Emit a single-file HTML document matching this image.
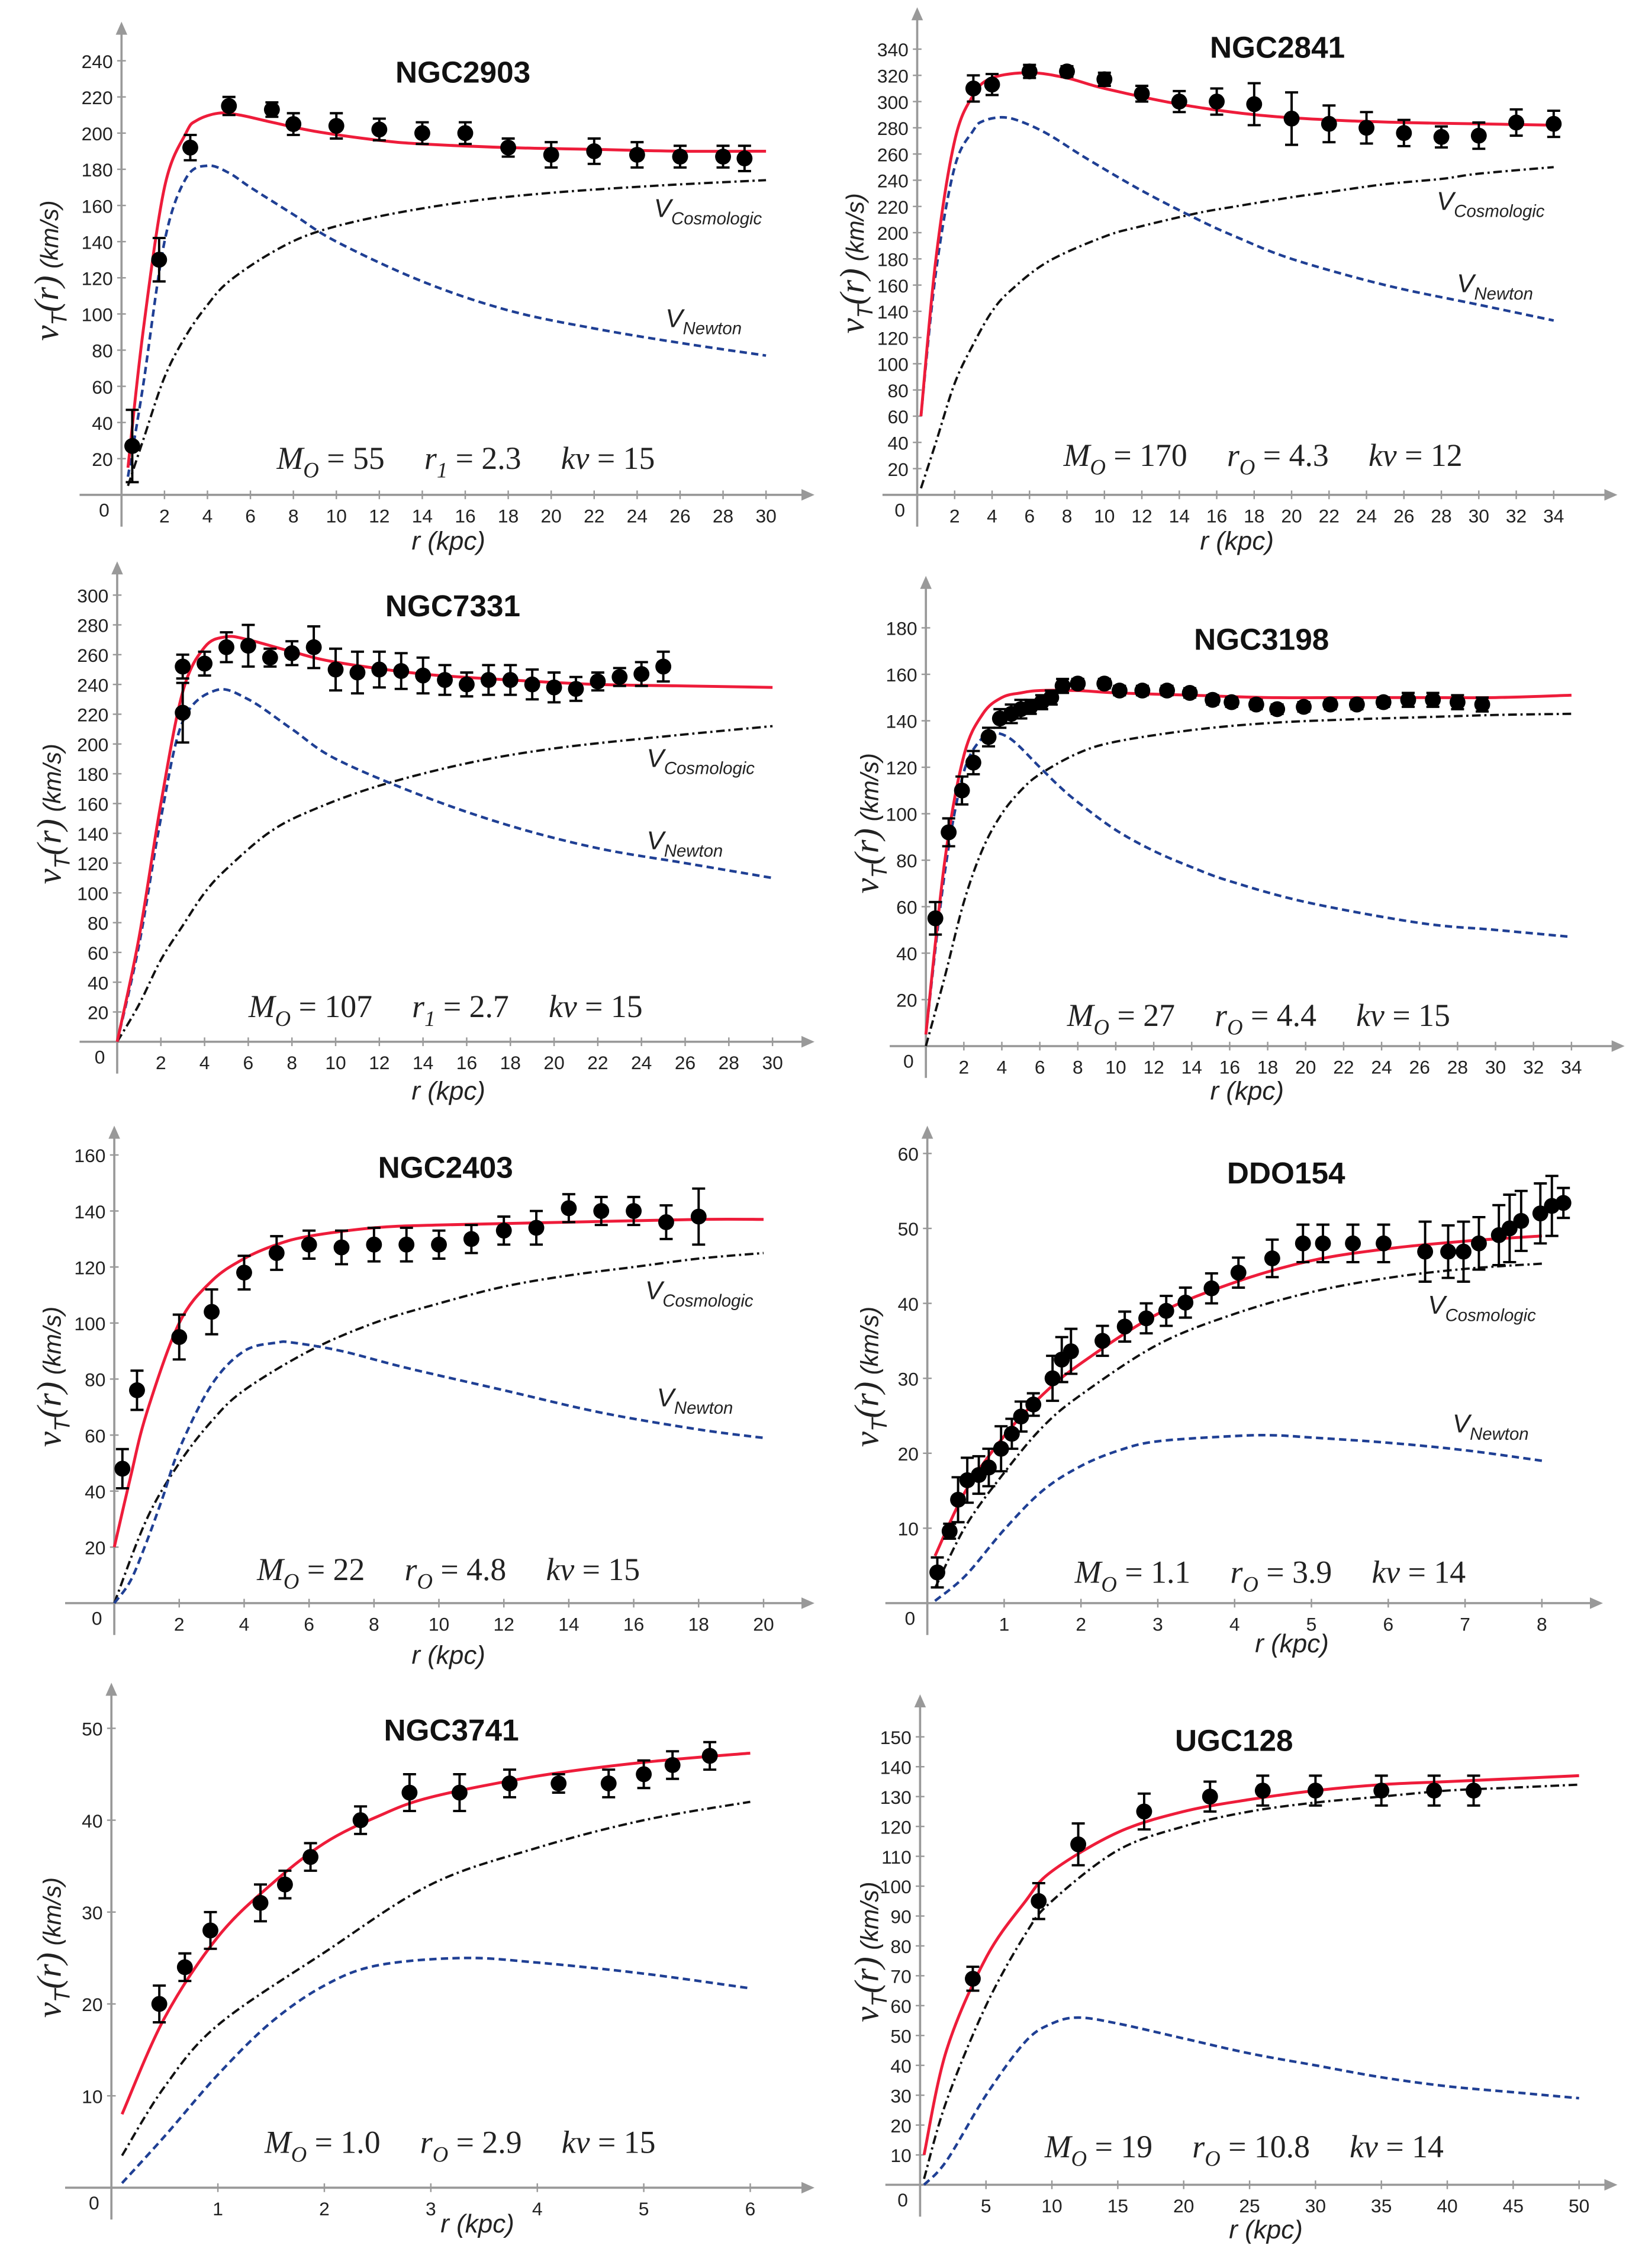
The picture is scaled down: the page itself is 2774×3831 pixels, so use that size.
<!DOCTYPE html>
<html><head><meta charset="utf-8">
<style>
html,body{margin:0;padding:0;background:#fff;}
svg{display:block;}
.tick{font-family:"Liberation Sans",sans-serif;font-size:13px;fill:#222;}
.title{font-family:"Liberation Sans",sans-serif;font-size:21px;font-weight:bold;fill:#111;}
.par{font-family:"Liberation Serif",serif;font-size:22px;fill:#222;}
.lab{font-family:"Liberation Sans",sans-serif;font-style:italic;fill:#222;}
</style></head>
<body>
<svg id="fig" width="2774" height="3831" viewBox="0 0 1135 1567.5" preserveAspectRatio="none" xmlns="http://www.w3.org/2000/svg"></svg>
<script>
// ---------- Panel data ----------
const p1_r=[0.5,1.75,3.2,5,7,8,10,12,14,16,18,20,22,24,26,28,29];
const p1_v=[27,130,192,215,213,205,204,202,200,200,192,188,190,188,187,187,186];
const p1_e=[20,12,7,5,4,6,7,6,6,6,5,7,7,7,6,6,7];
const p1_redR=[0.3,1,2,3,3.5,4.5,5.5,7,9,12,14,18,22,26,30];
const p1_redV=[15,90,170,200,207,211,210,206,201,196,194,192,191,190,190];
const p1_newR=[0.3,1,2,3,4,5,6,8,10,14,18,22,26,30];
const p1_newV=[10,60,140,175,182,178,170,155,140,118,102,92,84,77];
const p1_cosR=[0.3,1,2,3,4,5,7,9,12,16,20,25,30];
const p1_cosV=[5,30,65,88,105,118,134,145,154,162,167,171,174];

const p2_r=[3,4,6,8,10,12,14,16,18,20,22,24,26,28,30,32,34];
const p2_v=[310,313,323,323,317,306,300,300,298,287,283,280,276,273,274,284,283];
const p2_e=[10,8,5,4,5,6,8,10,16,20,14,12,10,8,10,10,10];
const p2_redR=[0.2,1,2,3,4,6,8,10,14,18,22,26,30,34];
const p2_redV=[60,180,270,305,318,322,318,310,298,290,286,284,283,282];
const p2_newR=[0.2,1,2,3,3.5,4.5,5.5,7,9,12,15,17,20,25,30,34];
const p2_newV=[60,170,250,278,285,288,285,275,257,232,210,197,180,160,145,133];
const p2_cosR=[0.2,1,2,3,4,5,7,10,12,15,17,20,22,25,28,30,34];
const p2_cosV=[5,40,85,115,140,156,178,197,205,215,220,227,231,237,241,245,250];

const p3_r=[3,3,4,5,6,7,8,9,10,11,12,13,14,15,16,17,18,19,20,21,22,23,24,25];
const p3_v=[221,252,254,265,266,258,261,265,250,248,250,249,246,243,240,243,243,240,238,237,242,245,247,252];
const p3_e=[20,8,8,10,14,6,8,14,14,14,12,12,12,10,8,10,10,10,10,8,6,6,8,10];
const p3_redR=[0,1,2,3,4,5,6,8,10,14,18,22,26,30];
const p3_redV=[0,70,160,235,265,272,270,262,255,247,243,240,239,238];
const p3_newR=[0,1,2,3,4.5,6,8,10,14,18,22,26,30];
const p3_newV=[0,65,150,215,236,230,210,190,165,145,130,120,110];
const p3_cosR=[0,1,2,3,4,5,7,9,12,16,20,25,30];
const p3_cosV=[0,25,55,78,100,116,141,156,172,187,197,205,212];

const p4_r=[0.5,1.2,1.9,2.5,3.3,3.9,4.5,5.0,5.5,6.1,6.6,7.2,8.0,9.4,10.2,11.4,12.7,13.9,15.1,16.1,17.4,18.5,19.9,21.3,22.7,24.1,25.4,26.7,28.0,29.3];
const p4_v=[55,92,110,122,133,141,143,145,146,148,150,155,156,156,153,153,153,152,149,148,147,145,146,147,147,148,149,149,148,147];
const p4_e=[7,6,6,5,4,4,4,4,3,3,3,3,2,2,2,2,2,2,2,2,2,2,2,2,2,2,3,3,3,3];
const p4_redR=[0,1,2,3,4,5,6,8,10,14,18,22,26,30,34];
const p4_redV=[5,80,125,143,150,152,153,153,152,151,150,150,150,150,151];
const p4_newR=[0,1,2,3,3.5,4.5,6,7,8,10,12,14,16,20,26,30,34];
const p4_newV=[5,75,118,133,135,132,120,112,105,93,84,77,71,62,53,50,47];
const p4_cosR=[0,1,2,3,4,5,6,8,10,14,18,22,26,30,34];
const p4_cosV=[0,30,62,85,100,110,117,126,131,136,139,140.5,141.5,142.5,143];

const p5_r=[0.25,0.7,2,3,4,5,6,7,8,9,10,11,12,13,14,15,16,17,18];
const p5_v=[48,76,95,104,118,125,128,127,128,128,128,130,133,134,141,140,140,136,138];
const p5_e=[7,7,8,8,6,6,5,6,6,6,5,5,5,6,5,5,5,6,10];
const p5_redR=[0,0.5,1,2,3,4,5,6,8,10,14,18,20];
const p5_redV=[20,45,68,100,115,123,128,131,134,135,136,137,137];
const p5_newR=[0,0.5,1,1.5,2,3,4,5,5.5,7,9,12,15,18,20];
const p5_newV=[0,8,22,38,55,78,90,93,93,90,84,76,68,62,59];
const p5_cosR=[0,1,2,3,4,6,8,10,12,14,16,18,20];
const p5_cosV=[0,30,50,65,76,90,100,107,113,117,120,123,125];

const p6_r=[0.13,0.29,0.4,0.52,0.67,0.8,0.96,1.1,1.22,1.38,1.63,1.75,1.87,2.28,2.57,2.85,3.11,3.36,3.7,4.05,4.49,4.89,5.15,5.54,5.94,6.48,6.78,6.98,7.18,7.44,7.58,7.73,7.98,8.13,8.28];
const p6_v=[4.1,9.6,13.8,16.4,17.1,18.1,20.6,22.6,24.9,26.5,30,32.5,33.6,35,36.9,38,39,40.1,42,44.1,46,48,48,48,48,46.9,46.9,46.9,48,49.1,50,51,52,53,53.4];
const p6_e=[2,1,3,3,2.5,2.5,3,2,2,1.5,3,3,3,2,2,2,2,2,2,2,2.5,2.5,2.5,2.5,2.5,4,3.5,4,3.5,4,4.5,4,4,4,2];
const p6_redR=[0.1,0.5,1,1.5,2,3,4,5,6,7,8];
const p6_redV=[6.3,15,22.3,27.8,32,38.6,42.8,45.7,47.3,48.3,49];
const p6_newR=[0.1,0.5,1,1.5,2,2.5,3,4,4.5,5,6,7,8];
const p6_newV=[0.3,3.7,9.8,15,18.3,20.4,21.6,22.3,22.4,22.1,21.4,20.4,19];
const p6_cosR=[0.1,0.5,1,1.5,2,3,4,5,6,7,8];
const p6_cosV=[2,10.3,17.4,23.5,27.8,34.5,38.6,41.5,43.4,44.6,45.3];

const p7_r=[0.45,0.69,0.93,1.4,1.63,1.87,2.34,2.8,3.27,3.74,4.2,4.67,5.0,5.27,5.62];
const p7_v=[20,24,28,31,33,36,40,43,43,44,44,44,45,46,47];
const p7_e=[2,1.5,2,2,1.5,1.5,1.5,2,2,1.5,1,1.5,1.5,1.5,1.5];
const p7_redR=[0.1,0.5,1,1.5,2,2.5,3,4,5,6];
const p7_redV=[8,18.5,27.3,33,37.5,40.4,42.5,44.8,46.3,47.3];
const p7_newR=[0.1,0.5,1,1.5,2,2.5,3.3,4,5,6];
const p7_newV=[0.5,5.6,12.3,18,22,24.2,25,24.5,23.3,21.7];
const p7_cosR=[0.1,0.5,1,2,3,4,5,6];
const p7_cosV=[3.5,11,17.7,25.6,33,37,40,42];

const p8_r=[4,9,12,17,22,26,30,35,39,42];
const p8_v=[69,95,114,125,130,132,132,132,132,132];
const p8_e=[4,6,7,6,5,5,5,5,5,5];
const p8_redR=[0.3,2,5,8,10,15,20,25,30,35,40,45,50];
const p8_redV=[10,45,76,95,105,118,125,129,132,134,135,136,137];
const p8_newR=[0.3,2,5,8,10,12,15,20,25,30,35,40,45,50];
const p8_newV=[0,8,30,48,54,56,54,49,44,40,36,33,31,29];
const p8_cosR=[0.3,2,5,8,10,15,20,25,30,35,40,45,50];
const p8_cosV=[2,28,60,84,95,112,120,125,128,130,132,133,134];

// tick arrays
const p1_xt=[2,4,6,8,10,12,14,16,18,20,22,24,26,28,30], p1_yt=[20,40,60,80,100,120,140,160,180,200,220,240];
const p2_xt=[2,4,6,8,10,12,14,16,18,20,22,24,26,28,30,32,34], p2_yt=[20,40,60,80,100,120,140,160,180,200,220,240,260,280,300,320,340];
const p3_xt=[2,4,6,8,10,12,14,16,18,20,22,24,26,28,30], p3_yt=[20,40,60,80,100,120,140,160,180,200,220,240,260,280,300];
const p4_xt=[2,4,6,8,10,12,14,16,18,20,22,24,26,28,30,32,34], p4_yt=[20,40,60,80,100,120,140,160,180];
const p5_xt=[2,4,6,8,10,12,14,16,18,20], p5_yt=[20,40,60,80,100,120,140,160];
const p6_xt=[1,2,3,4,5,6,7,8], p6_yt=[10,20,30,40,50,60];
const p7_xt=[1,2,3,4,5,6], p7_yt=[10,20,30,40,50];
const p8_xt=[5,10,15,20,25,30,35,40,45,50], p8_yt=[10,20,30,40,50,60,70,80,90,100,110,120,130,140,150];

const NS="http://www.w3.org/2000/svg";
const svg=document.getElementById('fig');
function mk(tag,attrs,parent){const e=document.createElementNS(NS,tag);for(const k in attrs)e.setAttribute(k,attrs[k]);(parent||svg).appendChild(e);return e;}

const panels=[
 {id:'ngc2903',title:'NGC2903',ox:84,oy:342,sx:14.85,sy:1.25,x0:55,x1:555,yTop:22,tx:320,ty:57,r:p1_r,v:p1_v,e:p1_e,red:[p1_redR,p1_redV],nw:[p1_newR,p1_newV],cs:[p1_cosR,p1_cosV],xt:p1_xt,yt:p1_yt,par:['55','1','2.3','15'],pcx:322,pcy:324,ylx:40,cos:[452,150],newt:[460,226],xl:[310,380]},
 {id:'ngc2841',title:'NGC2841',ox:634,oy:342,sx:12.94,sy:0.906,x0:610,x1:1110,yTop:12,tx:883,ty:40,r:p2_r,v:p2_v,e:p2_e,red:[p2_redR,p2_redV],nw:[p2_newR,p2_newV],cs:[p2_cosR,p2_cosV],xt:p2_xt,yt:p2_yt,par:['170','O','4.3','12'],pcx:873,pcy:322,ylx:597,cos:[993,145],newt:[1007,202],xl:[855,380]},
 {id:'ngc7331',title:'NGC7331',ox:81,oy:720,sx:15.1,sy:1.029,x0:55,x1:555,yTop:395,tx:313,ty:426,r:p3_r,v:p3_v,e:p3_e,red:[p3_redR,p3_redV],nw:[p3_newR,p3_newV],cs:[p3_cosR,p3_cosV],xt:p3_xt,yt:p3_yt,par:['107','1','2.7','15'],pcx:308,pcy:703,ylx:42,cos:[447,530],newt:[447,587],xl:[310,760]},
 {id:'ngc3198',title:'NGC3198',ox:640,oy:723,sx:13.125,sy:1.606,x0:615,x1:1115,yTop:405,tx:872,ty:449,r:p4_r,v:p4_v,e:p4_e,red:[p4_redR,p4_redV],nw:[p4_newR,p4_newV],cs:[p4_cosR,p4_cosV],xt:p4_xt,yt:p4_yt,par:['27','O','4.4','15'],pcx:870,pcy:709,ylx:607,cos:null,newt:null,xl:[862,760]},
 {id:'ngc2403',title:'NGC2403',ox:79,oy:1108,sx:22.44,sy:1.936,x0:45,x1:555,yTop:785,tx:308,ty:814,r:p5_r,v:p5_v,e:p5_e,red:[p5_redR,p5_redV],nw:[p5_newR,p5_newV],cs:[p5_cosR,p5_cosV],xt:p5_xt,yt:p5_yt,par:['22','O','4.8','15'],pcx:310,pcy:1092,ylx:42,cos:[446,898],newt:[454,972],xl:[310,1150]},
 {id:'ddo154',title:'DDO154',ox:641,oy:1108,sx:53.1,sy:5.18,x0:612,x1:1100,yTop:785,tx:889,ty:818,r:p6_r,v:p6_v,e:p6_e,red:[p6_redR,p6_redV],nw:[p6_newR,p6_newV],cs:[p6_cosR,p6_cosV],xt:p6_xt,yt:p6_yt,par:['1.1','O','3.9','14'],pcx:878,pcy:1094,ylx:607,cos:[987,908],newt:[1004,990],xl:[893,1142]},
 {id:'ngc3741',title:'NGC3741',ox:77,oy:1512,sx:73.6,sy:6.35,x0:45,x1:555,yTop:1170,tx:312,ty:1203,r:p7_r,v:p7_v,e:p7_e,red:[p7_redR,p7_redV],nw:[p7_newR,p7_newV],cs:[p7_cosR,p7_cosV],xt:p7_xt,yt:p7_yt,par:['1.0','O','2.9','15'],pcx:318,pcy:1488,ylx:42,cos:null,newt:null,xl:[330,1543]},
 {id:'ugc128',title:'UGC128',ox:636,oy:1510,sx:9.11,sy:2.064,x0:612,x1:1110,yTop:1178,tx:853,ty:1210,r:p8_r,v:p8_v,e:p8_e,red:[p8_redR,p8_redV],nw:[p8_newR,p8_newV],cs:[p8_cosR,p8_cosV],xt:p8_xt,yt:p8_yt,par:['19','O','10.8','14'],pcx:860,pcy:1491,ylx:607,cos:null,newt:null,xl:[875,1547]}
];

function smooth(pts){
  let d='M'+pts[0][0].toFixed(2)+','+pts[0][1].toFixed(2);
  for(let i=0;i<pts.length-1;i++){
    const p0=pts[Math.max(0,i-1)],p1=pts[i],p2=pts[i+1],p3=pts[Math.min(pts.length-1,i+2)];
    const c1=[p1[0]+(p2[0]-p0[0])/6,p1[1]+(p2[1]-p0[1])/6];
    const c2=[p2[0]-(p3[0]-p1[0])/6,p2[1]-(p3[1]-p1[1])/6];
    d+=' C'+c1[0].toFixed(2)+','+c1[1].toFixed(2)+' '+c2[0].toFixed(2)+','+c2[1].toFixed(2)+' '+p2[0].toFixed(2)+','+p2[1].toFixed(2);
  }
  return d;
}

panels.forEach(p=>{
  const g=mk('g',{});
  
  
  const X=r=>p.ox+r*p.sx, Y=v=>p.oy-v*p.sy;
  const xa=mk('line',{x1:p.x0,y1:p.oy,x2:p.x1,y2:p.oy,stroke:'#999','stroke-width':1.5},g);
  
  
  mk('path',{d:`M${p.x1+8},${p.oy} L${p.x1-1},${p.oy-4} L${p.x1-1},${p.oy+4}Z`,fill:'#999'},g);
  const ya=mk('line',{x1:p.ox,y1:p.oy+22,x2:p.ox,y2:p.yTop,stroke:'#999','stroke-width':1.5},g);
  
  
  mk('path',{d:`M${p.ox},${p.yTop-7} L${p.ox-4},${p.yTop+2} L${p.ox+4},${p.yTop+2}Z`,fill:'#999'},g);
  const z=mk('text',{x:p.ox-12,y:p.oy+15,class:'tick','text-anchor':'middle'},g);z.textContent='0';
  p.xt.forEach(t=>{
    mk('line',{x1:X(t),y1:p.oy-3,x2:X(t),y2:p.oy+3,stroke:'#999'},g);
    const tx=mk('text',{x:X(t),y:p.oy+19,class:'tick','text-anchor':'middle'},g);
    
    
    tx.textContent=t;
  });
  p.yt.forEach(t=>{
    mk('line',{x1:p.ox-3,y1:Y(t),x2:p.ox+3,y2:Y(t),stroke:'#999'},g);
    const ty=mk('text',{x:p.ox-6,y:Y(t)+5,class:'tick','text-anchor':'end'},g);
    
    
    ty.textContent=t;
  });
  const cos=mk('path',{d:smooth(p.cs[0].map((r,i)=>[X(r),Y(p.cs[1][i])])),fill:'none',stroke:'#111','stroke-width':1.6,'stroke-dasharray':'6,2.5,1.5,2.5'},g);
  
  
  const nw=mk('path',{d:smooth(p.nw[0].map((r,i)=>[X(r),Y(p.nw[1][i])])),fill:'none',stroke:'#1f3f94','stroke-width':1.8,'stroke-dasharray':'5,3'},g);
  
  
  const rd=mk('path',{d:smooth(p.red[0].map((r,i)=>[X(r),Y(p.red[1][i])])),fill:'none',stroke:'#ee1c3a','stroke-width':2},g);
  
  
  p.r.forEach((r,i)=>{
    const x=X(r),y=Y(p.v[i]),y1=Y(p.v[i]+p.e[i]),y2=Y(p.v[i]-p.e[i]);
    const eb=mk('path',{d:`M${x},${y1}V${y2}M${x-4.5},${y1}H${x+4.5}M${x-4.5},${y2}H${x+4.5}`,stroke:'#000','stroke-width':1.6,fill:'none'},g);
    
    
    const c=mk('circle',{cx:x,cy:y,r:5.5,fill:'#000'},g);
    
    
  });
  const t=mk('text',{x:p.tx,y:p.ty,class:'title','text-anchor':'middle'},g);
  
  
  t.textContent=p.title;
  const pt=mk('text',{x:p.pcx,y:p.pcy,class:'par','text-anchor':'middle'},g);
  
  
  pt.innerHTML=`<tspan font-style="italic">M</tspan><tspan font-style="italic" font-size="15" dy="6">O</tspan><tspan dy="-6"> = ${p.par[0]}     </tspan><tspan font-style="italic">r</tspan><tspan font-style="italic" font-size="15" dy="6">${p.par[1]}</tspan><tspan dy="-6"> = ${p.par[2]}     </tspan><tspan font-style="italic">kv</tspan><tspan> = ${p.par[3]}</tspan>`;
  pt.setAttribute('xml:space','preserve');
  pt.style.whiteSpace='pre';
  const yl=mk('text',{x:0,y:0,class:'lab',transform:`translate(${p.ylx},${(p.oy+p.yTop)/2+5}) rotate(-90)`,'text-anchor':'middle'},g);
  
  
  yl.innerHTML='<tspan font-size="24" font-family="Liberation Serif">v</tspan><tspan font-size="15" dy="6">T</tspan><tspan font-size="24" dy="-6" font-family="Liberation Serif">(r)</tspan><tspan font-size="17">  (km/s)</tspan>';
  const xl=mk('text',{x:p.xl[0],y:p.xl[1],class:'lab','text-anchor':'middle','font-size':18},g);
  
  
  xl.textContent='r  (kpc)';
  if(p.cos){
    const lc=mk('text',{x:p.cos[0],y:p.cos[1],class:'lab','font-size':18,'font-style':'normal'},g);
    
    
    lc.innerHTML='V<tspan font-size="12" dy="5">Cosmologic</tspan>';
    const ln=mk('text',{x:p.newt[0],y:p.newt[1],class:'lab','font-size':18,'font-style':'normal'},g);
    
    
    ln.innerHTML='V<tspan font-size="12" dy="5">Newton</tspan>';
  }
});
</script>
</body></html>
